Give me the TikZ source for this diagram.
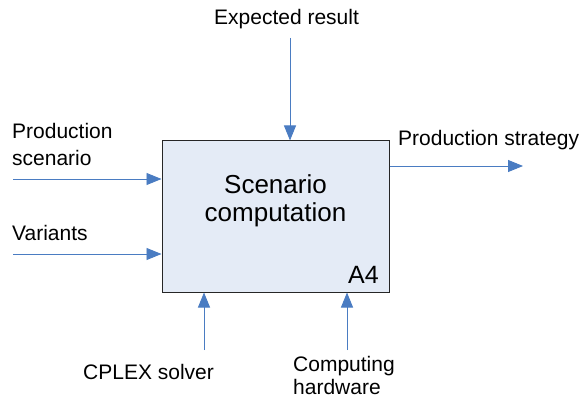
\documentclass[tikz,border=0pt]{standalone}
\usepackage{fontspec}
\setmainfont{Liberation Sans}
\usetikzlibrary{positioning,arrows.meta}
\definecolor{flowblue}{HTML}{4A7CC2}
\definecolor{boxfill}{HTML}{E4EBF6}
\tikzset{
	  flow/.style = {draw=flowblue, line width=0.9pt, -{Triangle[length=15pt,width=12pt]}},
	funbox/.style = {draw=black!85, fill=boxfill, line width=1pt, minimum width=227pt, minimum height=151pt, inner sep=0pt},
	 label/.style = {inner sep=0pt, anchor=base west, align=left, font=\fontsize{21}{27}\selectfont},
	 title/.style = {inner sep=0pt, anchor=base, align=center, font=\fontsize{26}{28}\selectfont}
}
\begin{document}
\begin{tikzpicture}[x=1pt, y=-1pt]
		\useasboundingbox (0,0) rectangle (581,401);
		\node[funbox] (comp) at (275.5,216.5) {};
		\node[title]  (name) at (275.5,221) {Scenario\\computation};
		\node[label, anchor=base east, font=\fontsize{25}{28}\selectfont] (num) at (379,283) {A4};
		% labels
		\node[label] (scen)  at (12,165)  {Production\\scenario};
		\node[label] (var)   at (12,240)  {Variants};
		\node[label] (exp)   at (214,25)  {Expected result};
		\node[label] (strat) at (398,146) {Production strategy};
		\node[label] (cplex) at (83,379)  {CPLEX solver};
		\node[label, font=\fontsize{21}{22.5}\selectfont] (hw) at (293,394) {Computing\\hardware};
		% free ends
		\coordinate (scenS)  at (13,179);
		\coordinate (varS)   at (13,254);
		\coordinate (expS)   at (290,38);
		\coordinate (stratE) at (523,166);
		\coordinate (cplexS) at (204,350);
		\coordinate (hwS)    at (347,350);
		\draw[flow]
			(scenS)  -- (scenS -| comp.west);
		\draw[flow]
			(varS)   -- (varS -| comp.west);
		\draw[flow]
			(expS)   -- (expS |- comp.north);
		\draw[flow]
			(stratE -| comp.east) -- (stratE);
		\draw[flow]
			(cplexS) -- (cplexS |- comp.south);
		\draw[flow]
			(hwS)    -- (hwS |- comp.south);
	\end{tikzpicture}
\end{document}
